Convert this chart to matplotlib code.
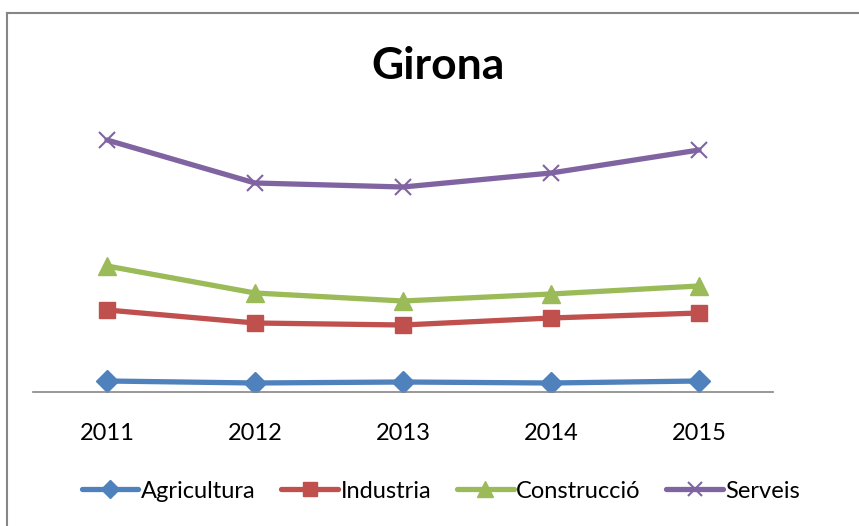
import matplotlib
matplotlib.use("Agg")
import matplotlib.pyplot as plt
from matplotlib.lines import Line2D

years = ["2011", "2012", "2013", "2014", "2015"]
agricultura = [11, 9, 10, 9, 11]
industria = [82, 69, 67, 74, 79]
construccio = [126, 99, 91, 98, 106]
serveis = [252, 209, 205, 219, 242]

series = [
    ("Agricultura", agricultura, "#4F81BD", "D", 11),
    ("Industria", industria, "#C0504D", "s", 12),
    ("Construcció", construccio, "#9BBB59", "^", 13),
    ("Serveis", serveis, "#8064A2", "x", 12),
]

plt.rcParams['font.family'] = ['Lato', 'DejaVu Sans']
W, H = 859, 526
fig = plt.figure(figsize=(W/100, H/100), dpi=100)

# outer chart border (cropped at right/bottom)
fig.add_artist(Line2D([7/W, 7/W], [0, 1-13/H], color="#868686", lw=1.5, transform=fig.transFigure))
fig.add_artist(Line2D([7/W, 1], [1-13/H, 1-13/H], color="#868686", lw=1.5, transform=fig.transFigure))

ax = fig.add_axes([33/W, 1-392/H, 740/W, 300/H])
x = list(range(len(years)))
handles = []
for name, vals, col, mk, ms in series:
    if mk == "x":
        h, = ax.plot(x, vals, color=col, lw=3.8, marker=mk, ms=ms, mew=1.5, label=name, solid_capstyle="round")
    else:
        h, = ax.plot(x, vals, color=col, lw=3.8, marker=mk, ms=ms, mec=col, mfc=col, label=name, solid_capstyle="round")
    handles.append(h)

ax.set_xlim(-0.5, len(years)-0.5)
ax.set_ylim(0, 300)
ax.set_xticks(x)
ax.set_xticklabels(years, fontsize=17)
ax.tick_params(axis="x", length=0, pad=22)
ax.set_yticks([])
for s in ["top", "right", "left"]:
    ax.spines[s].set_visible(False)
ax.spines["bottom"].set_color("#868686")
ax.spines["bottom"].set_linewidth(1.2)

fig.text(438/W, 1-66/H, "Girona", ha="center", va="center", fontsize=32, fontweight="bold")

fig.legend(handles=handles, loc="center", bbox_to_anchor=(441/W, 1-491/H), ncol=4,
           frameon=False, fontsize=17, handlelength=2.4, handletextpad=0.1, columnspacing=1.1,
           markerscale=0.85)

fig.savefig("out.png", dpi=100)
